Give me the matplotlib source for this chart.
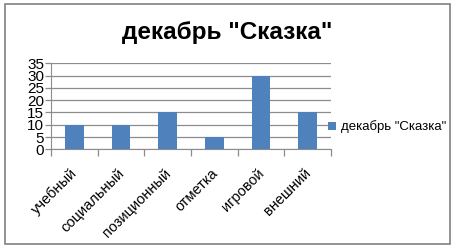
import matplotlib
matplotlib.use('Agg')
import matplotlib.pyplot as plt
from matplotlib.patches import Rectangle
from matplotlib.transforms import ScaledTranslation

plt.rcParams['font.family'] = ['Liberation Sans', 'DejaVu Sans']

categories = ['учебный', 'социальный', 'позиционный', 'отметка', 'игровой', 'внешний']
values = [10, 10, 15, 5, 30, 15]
series_name = 'декабрь "Сказка"'
yticks = [0, 5, 10, 15, 20, 25, 30, 35]

W, H = 457, 249
fig = plt.figure(figsize=(W / 100, H / 100), dpi=100)

# outer frame of the chart
fig.patches.append(Rectangle((5 / W, 1 - 244 / H), 445 / W, 240 / H,
                             transform=fig.transFigure, fill=False,
                             edgecolor='#808080', linewidth=1.2))

ax = fig.add_axes([51 / W, 1 - 149.3 / H, 280 / W, 86 / H])
x = range(len(categories))
bars = ax.bar(x, values, width=0.4, color='#4F81BD', label=series_name, zorder=3)

ax.set_xlim(-0.5, len(categories) - 0.5)
ax.set_ylim(0, 35)
ax.set_yticks(yticks)
ax.set_yticklabels([str(v) for v in yticks], fontsize=11)
ax.yaxis.grid(True, color='#8c8c8c', linewidth=0.9, zorder=0)
ax.tick_params(axis='y', length=4, width=0.9, color='#8c8c8c', pad=1)

# category boundary ticks on x axis
ax.set_xticks([i - 0.5 for i in range(len(categories) + 1)], minor=False)
ax.set_xticklabels([])
ax.tick_params(axis='x', which='major', length=5, width=0.9, color='#8c8c8c')
ax.set_xticks(list(x), minor=True)
ax.set_xticklabels(categories, minor=True, rotation=45, ha='right', va='top',
                   rotation_mode='anchor', fontsize=10.5)
ax.tick_params(axis='x', which='minor', length=0, pad=12)
shift = ScaledTranslation(-4 / 100, 0, fig.dpi_scale_trans)
for lab in ax.get_xticklabels(minor=True):
    lab.set_transform(lab.get_transform() + shift)

for s in ['top', 'right']:
    ax.spines[s].set_visible(False)
ax.spines['left'].set_color('#8c8c8c')
ax.spines['bottom'].set_color('#8c8c8c')

fig.text(227 / W, 1 - 33 / H, series_name, ha='center', va='center',
         fontsize=17.5, fontweight='bold')

leg = fig.legend(handles=[bars], labels=[series_name], loc='center left',
                 bbox_to_anchor=(328 / W, 1 - 127 / H), frameon=False,
                 fontsize=9.5, handlelength=0.6, handleheight=0.6,
                 handletextpad=0.4, borderaxespad=0, borderpad=0)

fig.savefig('out.png', dpi=100)
